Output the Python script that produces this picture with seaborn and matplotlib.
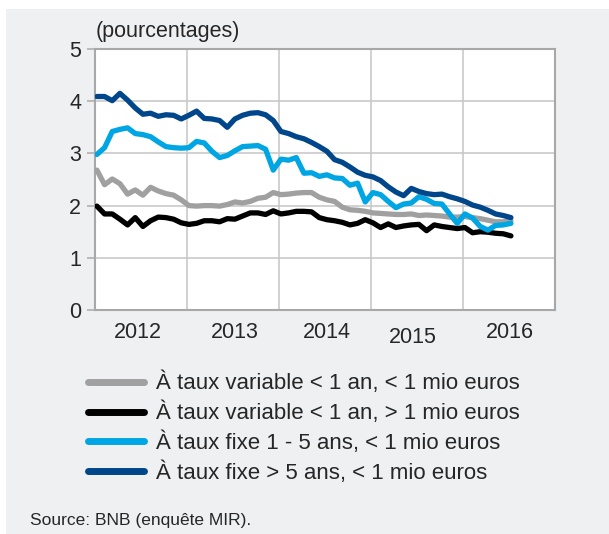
import matplotlib
matplotlib.use('agg')
import matplotlib.pyplot as plt
from matplotlib.patches import Rectangle
from matplotlib.lines import Line2D
import numpy as np
import pandas as pd
import seaborn as sns

# monthly data, Jan 2012 - Jul 2016
months = np.arange(55) + 0.25

var_small = [2.68, 2.40, 2.51, 2.42, 2.22, 2.30, 2.20, 2.35, 2.28, 2.23,
             2.20, 2.11, 2.00, 1.99, 2.00, 2.00, 1.99, 2.02, 2.07, 2.05,
             2.08, 2.14, 2.16, 2.25, 2.21, 2.22, 2.24, 2.25, 2.25, 2.16,
             2.11, 2.08, 1.97, 1.92, 1.91, 1.89, 1.86, 1.85, 1.84, 1.83,
             1.83, 1.84, 1.81, 1.82, 1.81, 1.80, 1.78, 1.78, 1.79, 1.77,
             1.75, 1.72, 1.69, 1.69, 1.71]
var_large = [1.99, 1.84, 1.84, 1.74, 1.63, 1.77, 1.60, 1.71, 1.78, 1.77,
             1.74, 1.67, 1.64, 1.66, 1.71, 1.71, 1.69, 1.75, 1.74, 1.80,
             1.86, 1.86, 1.83, 1.90, 1.84, 1.86, 1.89, 1.89, 1.88, 1.77,
             1.73, 1.71, 1.68, 1.63, 1.66, 1.73, 1.67, 1.58, 1.65, 1.58,
             1.61, 1.63, 1.64, 1.52, 1.63, 1.60, 1.58, 1.56, 1.58, 1.48,
             1.50, 1.49, 1.47, 1.46, 1.42]
fixe_1_5 = [2.98, 3.11, 3.42, 3.46, 3.49, 3.38, 3.36, 3.32, 3.22, 3.13,
            3.11, 3.10, 3.11, 3.23, 3.20, 3.04, 2.92, 2.96, 3.05, 3.13,
            3.14, 3.15, 3.08, 2.68, 2.89, 2.87, 2.92, 2.62, 2.63, 2.56,
            2.59, 2.53, 2.52, 2.39, 2.43, 2.07, 2.25, 2.21, 2.08, 1.96,
            2.03, 2.05, 2.17, 2.12, 2.04, 2.03, 1.84, 1.66, 1.84, 1.76,
            1.60, 1.53, 1.62, 1.63, 1.66]
fixe_5 = [4.09, 4.09, 4.01, 4.15, 4.02, 3.87, 3.75, 3.77, 3.71, 3.74,
          3.73, 3.66, 3.73, 3.81, 3.67, 3.66, 3.63, 3.50, 3.66, 3.73,
          3.77, 3.78, 3.74, 3.63, 3.42, 3.38, 3.32, 3.28, 3.21, 3.13,
          3.04, 2.88, 2.83, 2.74, 2.64, 2.58, 2.55, 2.48, 2.36, 2.26,
          2.19, 2.33, 2.27, 2.23, 2.21, 2.22, 2.17, 2.13, 2.08, 2.01,
          1.97, 1.91, 1.84, 1.81, 1.77]

labels = ["À taux variable < 1 an, < 1 mio euros",
          "À taux variable < 1 an, > 1 mio euros",
          "À taux fixe 1 - 5 ans, < 1 mio euros",
          "À taux fixe > 5 ans, < 1 mio euros"]
colors = ['#a0a0a0', '#000000', '#00a5e3', '#00468a']
years = ['2012', '2013', '2014', '2015', '2016']
year_pos = [5.6, 18.3, 30.3, 41.5, 54.1]

df = pd.concat([pd.DataFrame({'mois': months, 'taux': v, 'serie': l})
                for v, l in zip([var_small, var_large, fixe_1_5, fixe_5], labels)])

sns.set_style("whitegrid")
plt.rcParams['font.family'] = ['Liberation Sans', 'DejaVu Sans']

fig = plt.figure(figsize=(6.09, 5.34), dpi=100, facecolor='white')
fig.add_artist(Rectangle((6/609, 0), 1, (534-9)/534, transform=fig.transFigure,
                         facecolor='#eff0f2', edgecolor='none', zorder=-5))

ax = fig.add_axes([95/609, 224/534, 460/609, 261/534])
ax.set_facecolor('white')
sns.lineplot(data=df, x='mois', y='taux', hue='serie', palette=dict(zip(labels, colors)),
             linewidth=3.8, legend=False, ax=ax, zorder=3)
for ln in ax.get_lines():
    ln.set_solid_joinstyle('round')
    ln.set_solid_capstyle('round')

ax.set_xlim(0, 60)
ax.set_ylim(0, 5)
ax.set_xticks(np.arange(0, 61, 12))
ax.set_xticklabels([])
ax.set_yticks(range(6))
ax.grid(True, color='#c9c9c9', linewidth=1.2)
ax.tick_params(axis='x', length=0)
ax.tick_params(axis='y', length=6, width=1.2, color='#b0b0b0', labelsize=15.5, pad=4, left=True)
for s in ax.spines.values():
    s.set_color('#a8a8a8')
    s.set_linewidth(1.5)
ax.set_xlabel('')
ax.set_ylabel('')

# year labels sit between the gridlines, 2015 a little lower as in the original
for y, p in zip(years, year_pos):
    dy = -0.104 if y == '2015' else -0.088
    ax.text(p, dy, y, transform=ax.get_xaxis_transform(), ha='center', va='center', fontsize=15.5)

fig.text(96/609, 1 - 31/534, "(pourcentages)", fontsize=15.5, ha='left', va='center')

handles = [Line2D([], [], color=c, linewidth=5, solid_capstyle='round') for c in colors]
fig.legend(handles, labels, loc='upper left', bbox_to_anchor=(88/609, 1 - 372/534),
           frameon=False, fontsize=16, handlelength=2.5, handletextpad=0.58,
           labelspacing=0.33, borderpad=0, borderaxespad=0)

fig.text(30/609, 1 - 520/534, "Source: BNB (enquête MIR).", fontsize=12.5, ha='left', va='center')

fig.savefig('out.png', dpi=100, facecolor=fig.get_facecolor())
